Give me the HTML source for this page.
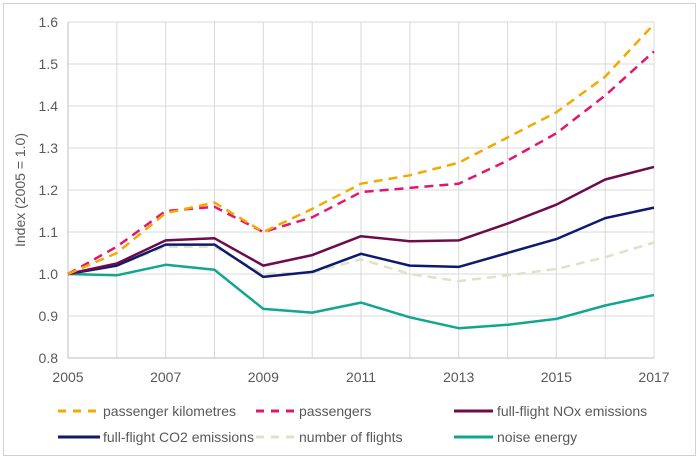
<!DOCTYPE html>
<html><head><style>body{margin:0;background:#fff}svg{display:block;font-family:"Liberation Sans",sans-serif}</style></head><body>
<svg width="700" height="460" viewBox="0 0 700 460">
<rect x="3.5" y="3.5" width="692" height="452" fill="#fff" stroke="#d0d0d0"/>
<g stroke="#d9d9d9" stroke-width="1">
<line x1="68" y1="22" x2="654" y2="22"/><line x1="68" y1="64" x2="654" y2="64"/><line x1="68" y1="106" x2="654" y2="106"/><line x1="68" y1="148" x2="654" y2="148"/><line x1="68" y1="190" x2="654" y2="190"/><line x1="68" y1="232" x2="654" y2="232"/><line x1="68" y1="274" x2="654" y2="274"/><line x1="68" y1="316" x2="654" y2="316"/>
<line x1="116.8" y1="22" x2="116.8" y2="358"/><line x1="165.7" y1="22" x2="165.7" y2="358"/><line x1="214.5" y1="22" x2="214.5" y2="358"/><line x1="263.3" y1="22" x2="263.3" y2="358"/><line x1="312.2" y1="22" x2="312.2" y2="358"/><line x1="361" y1="22" x2="361" y2="358"/><line x1="409.8" y1="22" x2="409.8" y2="358"/><line x1="458.7" y1="22" x2="458.7" y2="358"/><line x1="507.5" y1="22" x2="507.5" y2="358"/><line x1="556.3" y1="22" x2="556.3" y2="358"/><line x1="605.2" y1="22" x2="605.2" y2="358"/><line x1="654" y1="22" x2="654" y2="358"/>
<line x1="68" y1="22" x2="68" y2="358" stroke="#bfbfbf"/><line x1="68" y1="358" x2="654" y2="358" stroke="#bfbfbf"/>
</g>
<g font-size="14" fill="#595959" text-anchor="end">
<text x="58" y="27">1.6</text><text x="58" y="69">1.5</text><text x="58" y="111">1.4</text><text x="58" y="153">1.3</text><text x="58" y="195">1.2</text><text x="58" y="237">1.1</text><text x="58" y="279">1.0</text><text x="58" y="321">0.9</text><text x="58" y="363">0.8</text>
</g>
<g font-size="14" fill="#595959" text-anchor="middle">
<text x="68" y="382">2005</text><text x="165.7" y="382">2007</text><text x="263.3" y="382">2009</text><text x="361" y="382">2011</text><text x="458.7" y="382">2013</text><text x="556.3" y="382">2015</text><text x="654" y="382">2017</text>
</g>
<text transform="translate(25,190) rotate(-90)" font-size="14" fill="#595959" text-anchor="middle">Index (2005 = 1.0)</text>
<g fill="none" stroke-width="2.5" stroke-linejoin="round">
<polyline stroke="#13a58f" points="68,274 116.8,275.3 165.7,264.8 214.5,269.8 263.3,308.9 312.2,312.6 361,302.6 409.8,317.3 458.7,328.2 507.5,324.8 556.3,318.9 605.2,305.5 654,295"/>
<polyline stroke="#dfe3c4" stroke-dasharray="9,6" points="68,274 116.8,265.6 165.7,246.7 214.5,246.7 263.3,274 312.2,272.7 361,259.3 409.8,274 458.7,281.1 507.5,275.3 556.3,269 605.2,257.2 654,242.5"/>
<polyline stroke="#0e1a6e" points="68,274 116.8,265.6 165.7,244.6 214.5,244.6 263.3,276.9 312.2,271.9 361,253.8 409.8,265.6 458.7,266.9 507.5,253 556.3,239.1 605.2,218.1 654,207.6"/>
<polyline stroke="#6e0b4d" points="68,274 116.8,263.5 165.7,240.4 214.5,238.3 263.3,265.6 312.2,255.1 361,236.2 409.8,241.2 458.7,240.4 507.5,223.6 556.3,204.7 605.2,179.5 654,166.9"/>
<polyline stroke="#e3166e" stroke-dasharray="9,6" points="68,274 116.8,246.7 165.7,211 214.5,206.8 263.3,232 312.2,217.3 361,192.1 409.8,187.9 458.7,183.7 507.5,160.6 556.3,133.3 605.2,95.5 654,51.4"/>
<polyline stroke="#f2a900" stroke-dasharray="9,6" points="68,274 116.8,253 165.7,213.1 214.5,202.6 263.3,232 312.2,208.9 361,183.7 409.8,175.3 458.7,162.7 507.5,137.5 556.3,112.3 605.2,76.6 654,24.1"/>
</g>
<g stroke-width="3">
<line x1="58" y1="411" x2="100" y2="411" stroke="#f2a900" stroke-dasharray="8,7"/>
<line x1="256" y1="411" x2="296" y2="411" stroke="#e3166e" stroke-dasharray="8,7"/>
<line x1="454" y1="411" x2="493" y2="411" stroke="#6e0b4d"/>
<line x1="58" y1="437" x2="100" y2="437" stroke="#0e1a6e"/>
<line x1="256" y1="437" x2="296" y2="437" stroke="#dfe3c4" stroke-dasharray="8,7"/>
<line x1="454" y1="437" x2="493" y2="437" stroke="#13a58f"/>
</g>
<g font-size="14" fill="#595959">
<text x="103" y="416">passenger kilometres</text><text x="299" y="416">passengers</text><text x="497" y="416">full-flight NOx emissions</text>
<text x="103" y="442">full-flight CO2 emissions</text><text x="299" y="442">number of flights</text><text x="497" y="442">noise energy</text>
</g>
</svg>
</body></html>
